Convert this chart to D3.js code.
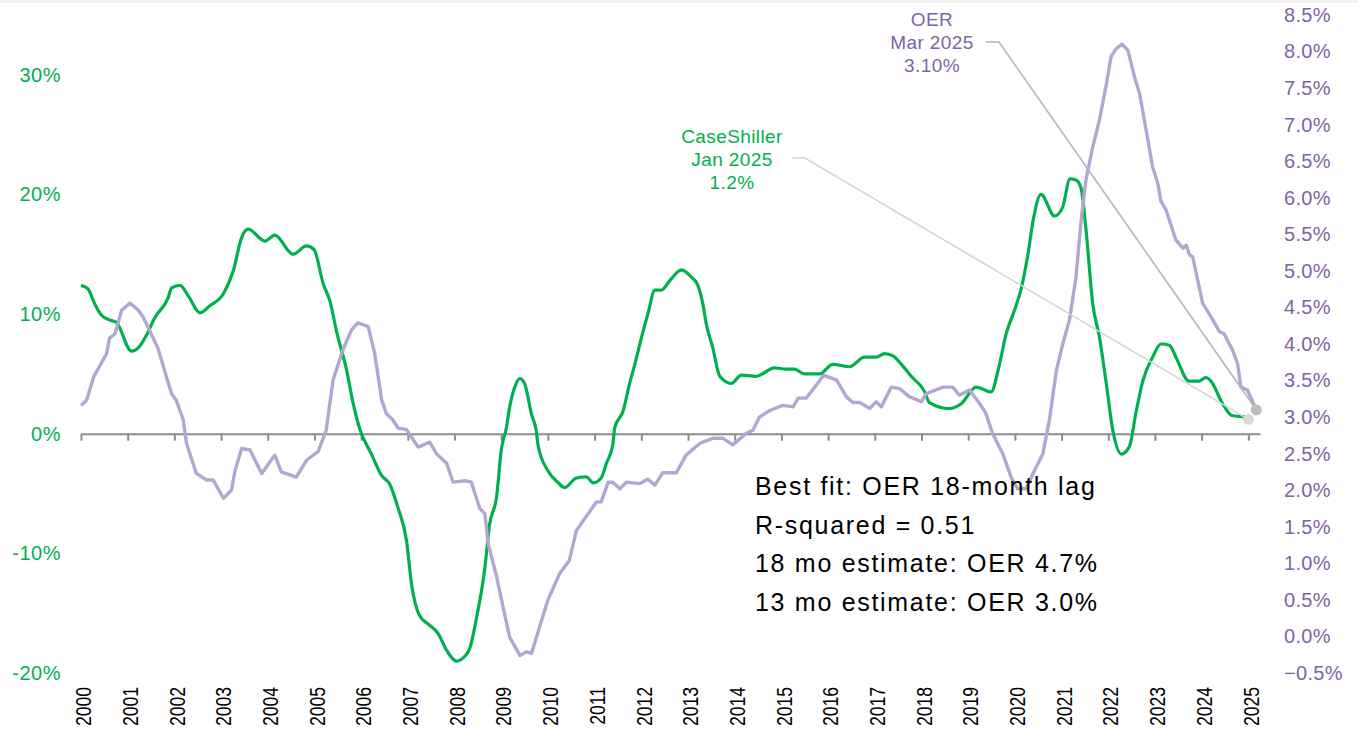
<!DOCTYPE html>
<html lang="en">
<head>
<meta charset="UTF-8"/>
<title>CaseShiller vs OER</title>
<script src="https://d3js.org/d3.v7.min.js"></script>
<style>
	body { margin: 0; background: #fff; }
	svg { display: block; font-family: "Liberation Sans", Arial, sans-serif; }
</style>
</head>
<body>
<script>
var w = 1358;
var h = 732;

// ---------- data ----------
var csDates = [2000.00,2000.15,2000.30,2000.44,2000.62,2000.76,2001.08,2001.23,2001.41,2001.58,2001.87,2001.94,
	2002.12,2002.30,2002.55,2002.76,2003.05,2003.26,2003.44,2003.58,2003.94,2004.15,2004.54,2004.83,2004.99,
	2005.19,2005.33,2005.47,2005.69,2005.83,2005.97,2006.22,2006.44,2006.61,2006.79,2006.97,2007.08,2007.25,
	2007.43,2007.65,2007.83,2008.04,2008.22,2008.33,2008.47,2008.65,2008.75,2008.90,2009.00,2009.11,2009.18,
	2009.29,2009.40,2009.50,2009.65,2009.75,2009.79,2010.00,2010.22,2010.36,2010.61,2010.82,2010.97,2011.14,
	2011.25,2011.39,2011.43,2011.61,2011.75,2011.86,2012.04,2012.14,2012.29,2012.43,2012.61,2012.86,2013.07,
	2013.21,2013.32,2013.39,2013.53,2013.68,2013.93,2014.14,2014.46,2014.85,2015.10,2015.28,2015.49,2015.82,
	2016.10,2016.46,2016.78,2017.03,2017.21,2017.39,2017.57,2017.78,2018.07,2018.17,2018.60,2018.85,2019.17,
	2019.49,2019.67,2019.81,2019.99,2020.14,2020.28,2020.39,2020.56,2020.85,2021.02,2021.18,2021.31,2021.42,
	2021.52,2021.67,2021.81,2021.95,2022.10,2022.28,2022.45,2022.60,2022.74,2022.95,2023.13,2023.31,2023.45,
	2023.73,2023.95,2024.09,2024.20,2024.45,2024.66,2024.95,2025.00];
var csValues = [12.4,12.1,10.8,9.9,9.5,9.3,6.9,7.2,8.3,9.7,11.4,12.2,
	12.4,11.5,10.1,10.7,11.7,13.6,16.4,17.1,16.1,16.6,15.0,15.7,15.4,
	12.5,11.1,8.6,5.3,2.5,0.4,-1.7,-3.5,-4.2,-6.2,-8.9,-12.6,-15.2,
	-15.9,-16.7,-18.1,-19.0,-18.6,-17.9,-15.4,-11.2,-7.6,-5.3,-1.4,0.5,2.2,
	3.9,4.6,4.2,1.6,0.25,-1.0,-3.1,-4.1,-4.5,-3.7,-3.6,-4.1,-3.7,
	-2.5,-0.9,0.5,1.9,4.2,5.8,8.6,10.0,12.0,12.0,12.8,13.7,13.1,
	12.4,10.8,9.2,7.2,4.8,4.2,4.9,4.8,5.5,5.4,5.4,5.0,5.0,
	5.8,5.6,6.4,6.4,6.7,6.5,5.8,4.8,3.5,2.6,2.1,2.5,3.9,
	3.5,5.8,8.3,10.3,12.2,15.0,17.8,20.0,18.2,18.9,21.3,21.2,20.5,
	17.2,10.8,8.1,4.4,0.25,-1.7,-1.1,1.9,4.4,6.4,7.5,7.4,6.4,
	4.4,4.4,4.7,4.4,2.5,1.5,1.4,1.2];

var oerDates = [2000.00,2000.12,2000.27,2000.55,2000.61,2000.73,2000.87,2001.05,2001.23,2001.33,2001.48,2001.65,
	2001.83,2001.94,2002.04,2002.19,2002.26,2002.47,2002.69,2002.83,2003.05,2003.22,2003.30,2003.44,2003.62,
	2003.87,2004.15,2004.29,2004.61,2004.83,2005.08,2005.25,2005.40,2005.61,2005.79,2005.93,2006.15,2006.29,
	2006.44,2006.54,2006.68,2006.79,2006.97,2007.22,2007.47,2007.61,2007.83,2007.97,2008.22,2008.36,2008.54,
	2008.65,2008.72,2008.90,2009.04,2009.18,2009.40,2009.54,2009.65,2009.82,2010.00,2010.25,2010.46,2010.61,
	2010.82,2011.04,2011.14,2011.29,2011.39,2011.54,2011.68,2011.96,2012.14,2012.29,2012.46,2012.75,2012.96,
	2013.25,2013.53,2013.75,2013.96,2014.25,2014.39,2014.53,2014.75,2015.03,2015.25,2015.36,2015.53,2015.75,
	2015.90,2016.18,2016.39,2016.53,2016.68,2016.89,2017.03,2017.14,2017.35,2017.53,2017.74,2018.00,2018.10,
	2018.46,2018.67,2018.81,2019.03,2019.24,2019.38,2019.52,2019.74,2019.92,2020.06,2020.24,2020.42,2020.60,
	2020.74,2020.89,2021.03,2021.17,2021.31,2021.42,2021.52,2021.67,2021.81,2021.95,2022.06,2022.17,2022.30,
	2022.42,2022.56,2022.67,2022.81,2022.95,2023.06,2023.13,2023.24,2023.45,2023.60,2023.67,2023.74,2023.81,
	2024.02,2024.24,2024.38,2024.48,2024.66,2024.77,2024.84,2024.98,2025.17];
var oerValues = [3.16,3.23,3.55,3.87,4.08,4.14,4.46,4.56,4.46,4.37,4.17,3.94,
	3.55,3.32,3.23,2.96,2.64,2.23,2.14,2.14,1.89,2.00,2.27,2.57,2.55,
	2.23,2.48,2.25,2.18,2.41,2.53,2.82,3.51,3.92,4.19,4.29,4.24,3.87,
	3.23,3.05,2.96,2.85,2.83,2.59,2.66,2.50,2.37,2.11,2.13,2.11,1.75,
	1.68,1.27,0.82,0.40,-0.01,-0.26,-0.21,-0.23,0.13,0.50,0.86,1.04,1.45,
	1.64,1.84,1.84,2.11,2.11,2.02,2.11,2.09,2.15,2.07,2.24,2.24,2.48,
	2.64,2.71,2.71,2.62,2.78,2.82,3.00,3.09,3.16,3.14,3.26,3.26,3.44,
	3.57,3.51,3.28,3.20,3.20,3.12,3.21,3.14,3.41,3.39,3.28,3.21,3.32,
	3.41,3.41,3.30,3.37,3.19,3.05,2.78,2.50,2.18,2.02,2.02,2.27,2.50,
	2.96,3.64,4.01,4.33,4.92,5.69,6.24,6.70,7.06,7.52,7.93,8.04,8.10,
	8.02,7.66,7.43,6.93,6.42,6.20,5.95,5.83,5.42,5.31,5.35,5.22,5.19,
	4.56,4.33,4.17,4.14,3.92,3.73,3.41,3.37,3.10];

var years = [2000,2001,2002,2003,2004,2005,2006,2007,2008,2009,2010,2011,2012,
	2013,2014,2015,2016,2017,2018,2019,2020,2021,2022,2023,2024,2025];
var leftTicks = [-20,-10,0,10,20,30];
var rightTicks = [-0.5,0.0,0.5,1.0,1.5,2.0,2.5,3.0,3.5,4.0,4.5,5.0,5.5,6.0,6.5,7.0,7.5,8.0,8.5];
var statLines = ["Best fit: OER 18-month lag", "R-squared = 0.51",
	"18 mo estimate: OER 4.7%", "13 mo estimate: OER 3.0%"];

var green = "#00b050";
var lilac = "#b3a6d0";
var purpleText = "#8064a2";

// ---------- scales ----------
var xScale = d3.scaleLinear().domain([2000, 2025.25]).range([81, 1260]);
var yLeft = d3.scaleLinear().domain([-20, 35]).range([673, 15]);
var yRight = d3.scaleLinear().domain([-0.5, 8.5]).range([673, 15]);

var svg = d3.select("body").append("svg")
	.attr("width", w)
	.attr("height", h);

// thin grey strip across the top
svg.append("rect").attr("x", 0).attr("y", 0).attr("width", w).attr("height", 3).attr("fill", "#f2f2f2");

// ---------- axes ----------
var squeeze = 0.8; // year labels are set in a narrow face
var xAxis = svg.append("g")
	.attr("transform", "translate(0," + yLeft(0) + ")")
	.call(d3.axisBottom(xScale).tickValues(years).tickSize(7).tickSizeOuter(0).tickFormat(d3.format("d")));
xAxis.select(".domain").attr("stroke", "#8c8c8c").attr("stroke-width", 2);
xAxis.selectAll(".tick line").attr("stroke", "#8c8c8c").attr("stroke-width", 2);
xAxis.selectAll(".tick text")
	.attr("transform", "rotate(-90) scale(" + squeeze + ",1)")
	.attr("text-anchor", "end")
	.attr("x", -(687 - yLeft(0)) / squeeze)
	.attr("y", 2)
	.attr("dy", "0.35em")
	.attr("fill", "#000")
	.style("font-family", "'Liberation Sans', Arial, sans-serif")
	.style("font-size", "22px");

var leftAxis = svg.append("g")
	.attr("transform", "translate(61,0)")
	.call(d3.axisLeft(yLeft).tickValues(leftTicks).tickSize(0).tickPadding(0)
		.tickFormat(function(d) { return d + "%"; }));
leftAxis.select(".domain").remove();
leftAxis.selectAll("text")
	.attr("fill", green)
	.style("font-family", "'Liberation Sans', Arial, sans-serif")
	.style("font-size", "20px")
	.style("letter-spacing", "0.5px");

var rightAxis = svg.append("g")
	.attr("transform", "translate(1284,0)")
	.call(d3.axisRight(yRight).tickValues(rightTicks).tickSize(0).tickPadding(0)
		.tickFormat(function(d) { return d3.format(".1f")(d) + "%"; }));
rightAxis.select(".domain").remove();
rightAxis.selectAll("text")
	.attr("x", 0)
	.attr("fill", purpleText)
	.style("font-family", "'Liberation Sans', Arial, sans-serif")
	.style("font-size", "20px")
	.style("letter-spacing", "0.3px");

// ---------- lines ----------
var csLine = d3.line()
	.x(function(d) { return xScale(d[0]); })
	.y(function(d) { return yLeft(d[1]); })
	.curve(d3.curveMonotoneX);
var oerLine = d3.line()
	.x(function(d) { return xScale(d[0]); })
	.y(function(d) { return yRight(d[1]); });

svg.append("path")
	.datum(d3.zip(csDates, csValues))
	.attr("d", csLine)
	.attr("fill", "none")
	.attr("stroke", green)
	.attr("stroke-width", 3.2)
	.attr("stroke-linejoin", "round");

svg.append("path")
	.datum(d3.zip(oerDates, oerValues))
	.attr("d", oerLine)
	.attr("fill", "none")
	.attr("stroke", lilac)
	.attr("stroke-width", 3.4)
	.attr("stroke-linejoin", "round");

// ---------- end-point call-outs ----------
var csEnd = [xScale(csDates[csDates.length - 1]), yLeft(csValues[csValues.length - 1])];
var oerEnd = [xScale(oerDates[oerDates.length - 1]), yRight(oerValues[oerValues.length - 1])];

svg.append("polyline")
	.attr("points", [[792, 158], [805, 158], csEnd].join(" "))
	.attr("fill", "none").attr("stroke", "#d4d4d4").attr("stroke-width", 1.6);
svg.append("polyline")
	.attr("points", [[986, 42], [999, 42], oerEnd].join(" "))
	.attr("fill", "none").attr("stroke", "#b4b4b4").attr("stroke-width", 1.6);

svg.append("circle").attr("cx", csEnd[0]).attr("cy", csEnd[1]).attr("r", 5.5).attr("fill", "#d9d9d9");
svg.append("circle").attr("cx", oerEnd[0]).attr("cy", oerEnd[1]).attr("r", 5.5).attr("fill", "#bdbdbd");

var csLabel = svg.append("text")
	.attr("text-anchor", "middle")
	.attr("fill", green)
	.style("font-size", "19px")
	.style("letter-spacing", "0.4px");
["CaseShiller", "Jan 2025", "1.2%"].forEach(function(t, i) {
	csLabel.append("tspan").attr("x", 732).attr("y", 143 + i * 23).text(t);
});

var oerLabel = svg.append("text")
	.attr("text-anchor", "middle")
	.attr("fill", purpleText)
	.style("font-size", "19px")
	.style("letter-spacing", "0.4px");
["OER", "Mar 2025", "3.10%"].forEach(function(t, i) {
	oerLabel.append("tspan").attr("x", 932).attr("y", 26 + i * 23).text(t);
});

// ---------- stats box ----------
svg.selectAll("text.stat")
	.data(statLines)
	.enter()
	.append("text")
	.attr("class", "stat")
	.attr("x", 755)
	.attr("y", function(d, i) { return 495 + i * 38.5; })
	.attr("fill", "#000")
	.style("font-size", "25px")
	.style("letter-spacing", "1.7px")
	.text(function(d) { return d; });
</script>
</body>
</html>
